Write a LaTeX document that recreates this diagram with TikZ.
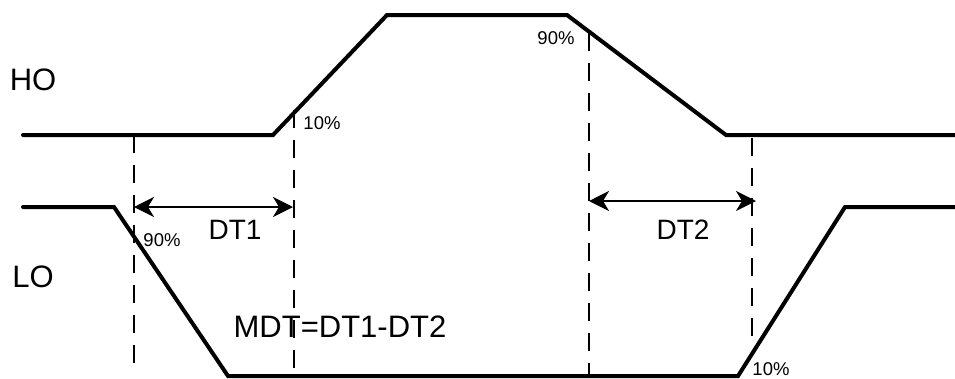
\documentclass[tikz,border=0pt]{standalone}
\usepackage{fontspec}
\setmainfont{Liberation Sans}
\usetikzlibrary{arrows.meta}
\begin{document}
\begin{tikzpicture}[x=1pt,y=-1pt,
  wave/.style={line width=4pt,line join=miter,line cap=round},
  guide/.style={line width=2pt,dash pattern=on 18pt off 12pt},
  dim/.style={line width=2pt,{Stealth[length=20pt,width=20pt,inset=6pt]}-{Stealth[length=20pt,width=20pt,inset=6pt]}},
  big/.style={inner sep=0pt,font=\fontsize{31}{31}\selectfont},
  mid/.style={inner sep=0pt,font=\fontsize{28}{28}\selectfont},
  pct/.style={inner sep=0pt,font=\fontsize{18.5}{18.5}\selectfont}]
\useasboundingbox (0,0) rectangle (955,378);
% HO waveform
\coordinate (h0) at (23,135);
\coordinate (h1) at (273,135);
\coordinate (h2) at (387,15);
\coordinate (h3) at (567,15);
\coordinate (h4) at (726,135);
\coordinate (h5) at (955,135);
\draw[wave] (h0) -- (h1) -- (h2) -- (h3) -- (h4) -- (h5);
% LO waveform
\coordinate (l0) at (23,207);
\coordinate (l1) at (114,207);
\coordinate (l2) at (228,376);
\coordinate (l3) at (738,376);
\coordinate (l4) at (845,207);
\coordinate (l5) at (955,207);
\draw[wave] (l0) -- (l1) -- (l2) -- (l3) -- (l4) -- (l5);
% guides
\coordinate (g1t) at (134,135); \coordinate (g1b) at (134,368);
\coordinate (g2t) at (294,110); \coordinate (g2b) at (294,376);
\coordinate (g3t) at (589,33);  \coordinate (g3b) at (589,376);
\coordinate (g4t) at (752,138); \coordinate (g4b) at (752,345);
\draw[guide] (g1t) -- (g1b);
\draw[guide] (g2t) -- (g2b);
\draw[guide] (g3t) -- (g3b);
\draw[guide] (g4t) -- (g4b);
% dimension arrows
\coordinate (a1l) at (134,207); \coordinate (a1r) at (293,207);
\coordinate (a2l) at (589,201); \coordinate (a2r) at (756,201);
\draw[dim] (a1l) -- (a1r);
\draw[dim] (a2l) -- (a2r);
% labels
\node[big] (ho) at (33,80) {HO};
\node[big] (lo) at (33,277) {LO};
\node[mid] (dt1) at (235,230) {DT1};
\node[mid] (dt2) at (683,230) {DT2};
\node[big] (mdt) at (340,327) {MDT=DT1-DT2};
\node[pct] (p90a) at (162,240) {90\%};
\node[pct] (p10a) at (322,123) {10\%};
\node[pct] (p90b) at (556,38) {90\%};
\node[pct] (p10b) at (771,369) {10\%};
\end{tikzpicture}
\end{document}
